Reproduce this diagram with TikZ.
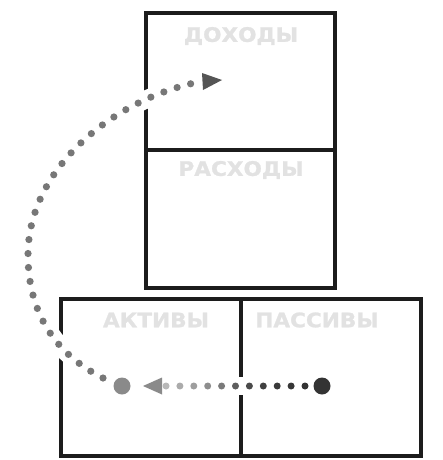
\documentclass[tikz,border=0pt]{standalone}
\usepackage{fontspec}
\setmainfont{DejaVu Sans}
\newfontfamily\titlefont{DejaVu Sans Bold}[FakeStretch=1.08,FakeBold=1.2]
\usetikzlibrary{arrows.meta,calc}
\definecolor{boxline}{HTML}{1C1C1C}
\definecolor{labelgray}{HTML}{E2E2E2}
\definecolor{curvegray}{HTML}{777777}
\definecolor{tipgray}{HTML}{555555}
\definecolor{lightdot}{HTML}{8A8A8A}
\definecolor{darkdot}{HTML}{333333}
\begin{document}
\begin{tikzpicture}[x=1pt,y=-1pt,
  boxframe/.style={draw=boxline,line width=3.6pt},
  title/.style={font=\titlefont\fontsize{20}{20}\selectfont,text=labelgray,inner sep=0pt,anchor=center},
  enddot/.style={circle,inner sep=0pt,minimum size=17pt},
  halo/.style={draw=white,line width=18pt},
  dotline/.style={line width=7.2pt,line cap=round,dash pattern=on 0pt off 14pt}
]
\useasboundingbox (0,0) rectangle (442,460);
% boxes
\coordinate (incTL) at (146,13);
\coordinate (expBR) at (335,288);
\coordinate (astTL) at (61,299);
\coordinate (astBR) at (241,456);
\coordinate (libBR) at (421,456);
\draw[boxframe] (incTL) rectangle (expBR);
\draw[boxframe] (146,150) -- (335,150);
\draw[boxframe] (astTL) rectangle (libBR);
\draw[boxframe] (241,299) -- (astBR);
% titles
\node[title] (tinc) at (241,36) {ДОХОДЫ};
\node[title] (texp) at (241,170) {РАСХОДЫ};
\node[title] (tast) at (156,320) {АКТИВЫ};
\node[title] (tlib) at (317,320) {ПАССИВЫ};
% end points
\node[enddot,fill=darkdot] (src) at (322,386) {};
\node[enddot,fill=lightdot] (dst) at (122,386) {};
\coordinate (tipL) at (143,386);
\coordinate (baseL) at (162,386);
\coordinate (cstart) at (103,378);
\coordinate (cmid) at (28,255);
\coordinate (ctip) at (222,80);
% halos
\draw[halo] (cstart) .. controls (53,353) and (28,310) .. (cmid)
  .. controls (28,170) and (110,102) .. (197,82);
\draw[halo] (166,386) -- (305,386);
% curved dotted connector
\draw[dotline,draw=curvegray] (cstart) .. controls (53,353) and (28,310) .. (cmid)
  .. controls (28,170) and (110,102) .. (194,83);
\fill[tipgray] (ctip) -- ++(-20,-7) -- ++(1,17) -- cycle;
% straight dotted connector with gradient
\foreach \i/\c in {0/B8B8B8,1/ABABAB,2/9E9E9E,3/8E8E8E,4/7A7A7A,5/5E5E5E,6/4A4A4A,7/404040,8/3A3A3A,9/363636,10/333333}{
  \definecolor{dc}{HTML}{\c}
  \fill[dc] ($(166,386)+(\i*13.9,0)$) circle (3.5);
}
\fill[lightdot] (tipL) -- ($(baseL)+(0,-8.5)$) -- ($(baseL)+(0,8.5)$) -- cycle;
\end{tikzpicture}
\end{document}
